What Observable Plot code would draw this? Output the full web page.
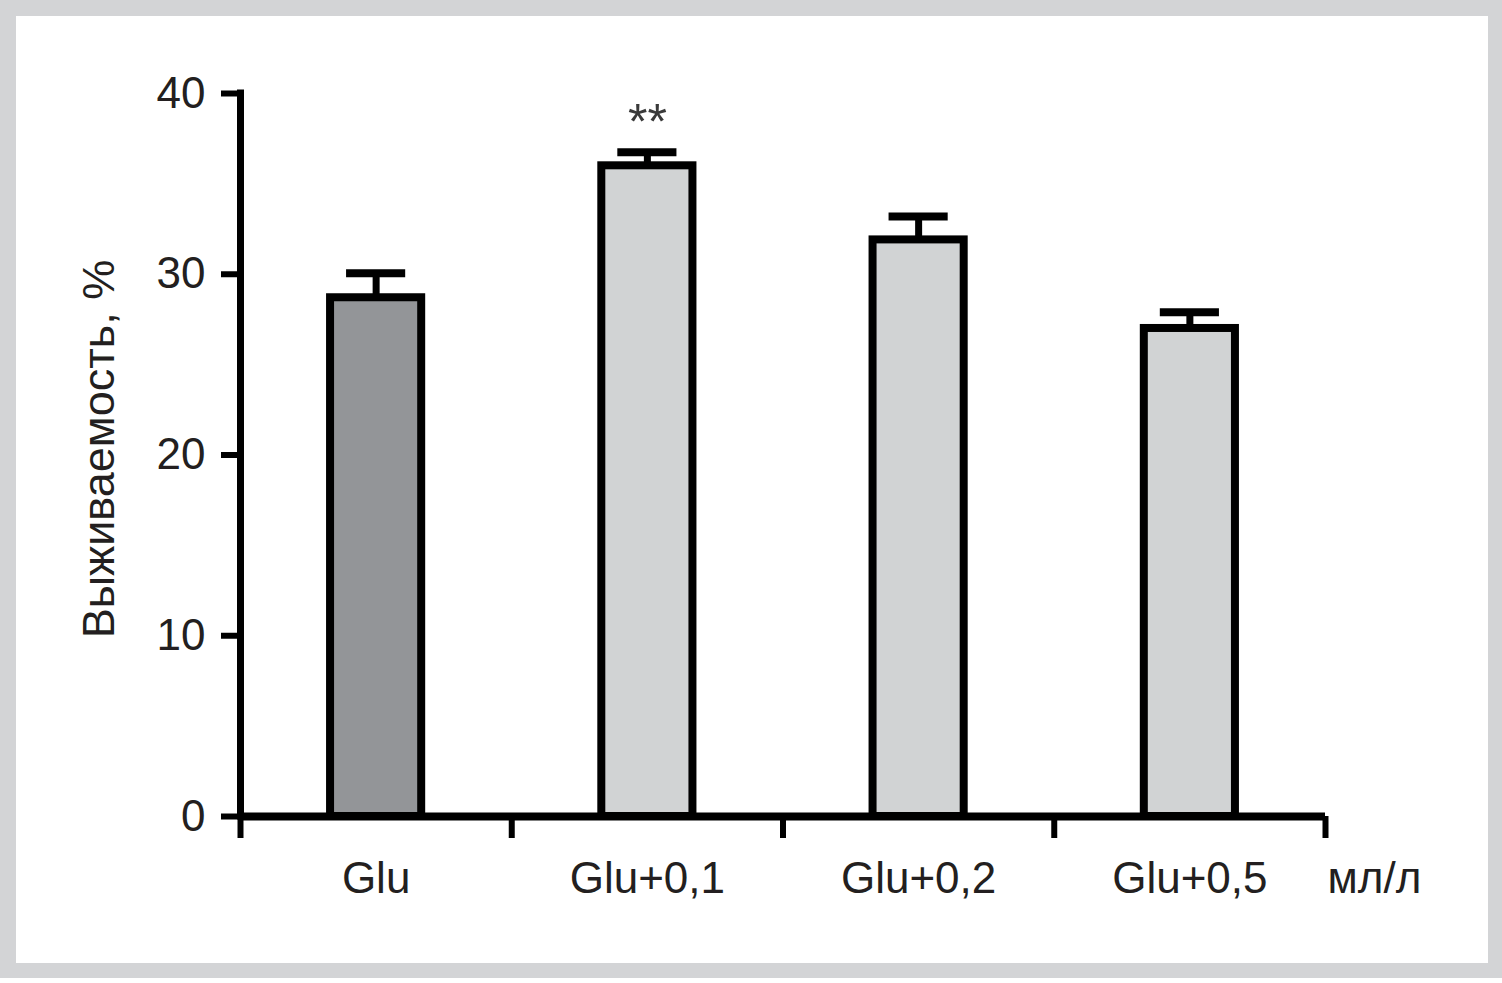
<!DOCTYPE html>
<html>
<head>
<meta charset="utf-8">
<script src="https://cdn.jsdelivr.net/npm/d3@7"></script>
<script src="https://cdn.jsdelivr.net/npm/@observablehq/plot@0.6"></script>
<style>
  html, body { margin: 0; padding: 0; background: #ffffff; width: 1502px; height: 983px; overflow: hidden; }
  #frame { position: absolute; left: 0; top: 0; width: 1502px; height: 978px; box-sizing: border-box;
           border-style: solid; border-color: #d3d4d6; border-width: 16px 14px 15px 16px; background: #fff; }
  #chart { position: absolute; left: 0; top: 0; }
</style>
</head>
<body>
<div id="frame"></div>
<div id="chart"></div>
<script>
const categories = ["Glu", "Glu+0,1", "Glu+0,2", "Glu+0,5"];
const values = [28.7, 36.0, 31.9, 27.0];
const errors = [30.05, 36.75, 33.2, 27.9];
const fills = ["#939598", "#d1d3d4", "#d1d3d4", "#d1d3d4"];
const significance = ["", "**", "", ""];
const yTicks = [0, 10, 20, 30, 40];
const xBoundaries = [0, 1, 2, 3, 4];
const yLabel = "Выживаемость, %";
const unitLabel = "мл/л";

const data = categories.map((c, i) => ({ c, i, v: values[i], e: errors[i], f: fills[i], s: significance[i] }));
const halfBar = 0.168;
const halfCap = 0.109;
const font = "'Liberation Sans', Arial, Helvetica, sans-serif";
const ink = "#231f20";

const chart = Plot.plot({
  width: 1502,
  height: 983,
  marginLeft: 240,
  marginRight: 177,
  marginTop: 93,
  marginBottom: 167,
  style: { background: "transparent", fontFamily: font, overflow: "visible" },
  x: { type: "linear", domain: [0, 4], axis: null },
  y: { domain: [0, 40], axis: null },
  marks: [
    // error bar stems
    Plot.ruleX(data, { x: d => d.i + 0.5, y1: "v", y2: "e", stroke: "#000", strokeWidth: 7 }),
    // bars
    Plot.rectY(data, { x1: d => d.i + 0.5 - halfBar, x2: d => d.i + 0.5 + halfBar, y1: 0, y2: "v",
                       fill: "f", stroke: "#000", strokeWidth: 8 }),
    // error caps
    Plot.ruleY(data, { y: "e", x1: d => d.i + 0.5 - halfCap, x2: d => d.i + 0.5 + halfCap,
                       stroke: "#000", strokeWidth: 8 }),
    // significance
    Plot.text(data.filter(d => d.s), { x: d => d.i + 0.5, y: "e", text: "s", dy: -29,
                       fontSize: 50, fill: "#3a3a3a", fontFamily: font }),
    // y axis
    Plot.axisY(yTicks, { tickSize: 19, tickPadding: 16, strokeWidth: 6, fontSize: 44,
                         fill: ink, label: null, stroke: "#000", fontFamily: font }),
    Plot.ruleX([0], { y1: 0, y2: 40, stroke: "#000", strokeWidth: 7, strokeLinecap: "square" }),
    // x axis
    Plot.ruleY([0], { x1: 0, x2: 4, stroke: "#000", strokeWidth: 8 }),
    Plot.axisX(xBoundaries, { tickSize: 22, strokeWidth: 6, tickFormat: () => "", label: null, stroke: "#000" }),
    Plot.text(data, { x: d => d.i + 0.5, y: 0, text: "c", dy: 62, fontSize: 44, fill: ink, fontFamily: font }),
    Plot.text([unitLabel], { x: 4, y: 0, text: d => d, dx: 49, dy: 62, fontSize: 44, fill: ink, fontFamily: font }),
    // y label
    Plot.text([yLabel], { frameAnchor: "left", textAnchor: "middle", text: d => d, rotate: -90, dx: -141, dy: -6,
                          fontSize: 45, fill: ink, fontFamily: font })
  ]
});
document.getElementById("chart").appendChild(chart);
</script>
</body>
</html>
